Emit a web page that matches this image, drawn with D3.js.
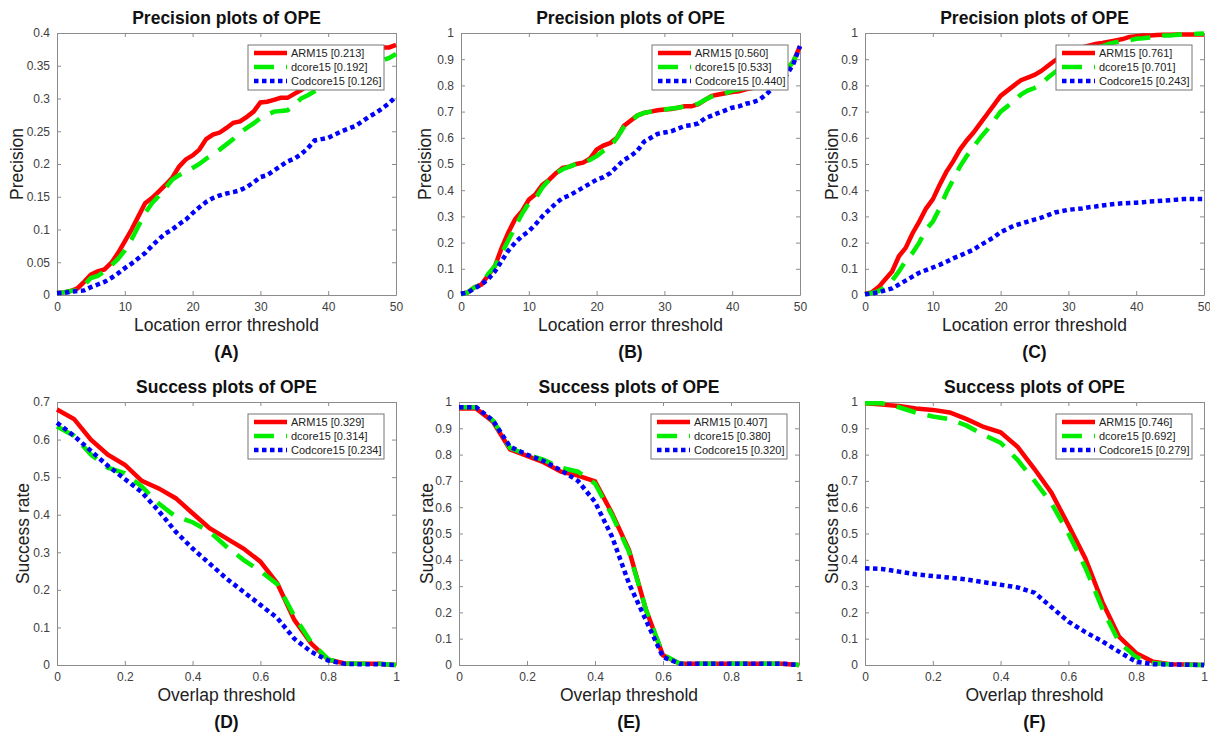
<!DOCTYPE html>
<html>
<head>
<meta charset="utf-8">
<script src="https://cdn.jsdelivr.net/npm/d3@7"></script>
<style>
  body { margin: 0; background: #fff; }
  svg { font-family: Arial, "Liberation Sans", sans-serif; }
</style>
</head>
<body>
<svg id="chart" width="1210" height="741"></svg>
<script>
// x values
const precisionX = [0,1,2,3,4,5,6,7,8,9,10,11,12,13,14,15,16,17,18,19,20,21,22,23,24,25,26,27,28,29,30,31,32,33,34,35,36,37,38,39,40,41,42,43,44,45,46,47,48,49,50];
const successX = [0,0.05,0.1,0.15,0.2,0.25,0.3,0.35,0.4,0.45,0.5,0.55,0.6,0.65,0.7,0.75,0.8,0.85,0.9,0.95,1];

const trackers = ["ARM15", "dcore15", "Codcore15"];

// (A) precision
const precA_arm = [0.003,0.004,0.006,0.01,0.02,0.031,0.036,0.039,0.049,0.064,0.082,0.1,0.12,0.14,0.148,0.158,0.168,0.179,0.196,0.207,0.213,0.222,0.238,0.245,0.248,0.255,0.263,0.265,0.272,0.28,0.294,0.295,0.298,0.301,0.301,0.307,0.313,0.32,0.325,0.33,0.335,0.34,0.345,0.352,0.36,0.365,0.372,0.377,0.378,0.378,0.382];
const precA_dcore = [0.003,0.004,0.006,0.007,0.015,0.026,0.029,0.036,0.045,0.055,0.068,0.085,0.105,0.125,0.14,0.151,0.163,0.176,0.183,0.188,0.194,0.2,0.208,0.215,0.222,0.23,0.238,0.248,0.255,0.262,0.27,0.275,0.28,0.281,0.282,0.29,0.3,0.305,0.311,0.316,0.32,0.325,0.33,0.335,0.34,0.345,0.35,0.355,0.358,0.362,0.368];
const precA_cod = [0.003,0.003,0.005,0.006,0.007,0.012,0.016,0.02,0.026,0.033,0.041,0.048,0.056,0.064,0.075,0.085,0.094,0.1,0.108,0.115,0.125,0.134,0.142,0.148,0.152,0.155,0.157,0.16,0.165,0.172,0.18,0.183,0.19,0.197,0.204,0.208,0.215,0.224,0.236,0.238,0.24,0.245,0.25,0.254,0.258,0.265,0.272,0.278,0.285,0.293,0.303];

// (B) precision
const precB_arm = [0.005,0.01,0.03,0.04,0.075,0.11,0.18,0.24,0.29,0.32,0.364,0.385,0.42,0.44,0.465,0.485,0.49,0.5,0.505,0.52,0.555,0.57,0.58,0.6,0.645,0.665,0.685,0.695,0.7,0.705,0.708,0.71,0.715,0.72,0.72,0.728,0.745,0.76,0.765,0.77,0.775,0.778,0.785,0.79,0.795,0.8,0.81,0.83,0.86,0.89,0.95];
const precB_dcore = [0.003,0.01,0.03,0.04,0.08,0.11,0.16,0.21,0.26,0.31,0.35,0.37,0.41,0.44,0.465,0.48,0.49,0.5,0.505,0.515,0.53,0.55,0.565,0.6,0.64,0.66,0.685,0.695,0.7,0.705,0.708,0.712,0.715,0.72,0.722,0.73,0.745,0.758,0.762,0.77,0.78,0.785,0.79,0.795,0.8,0.805,0.815,0.835,0.86,0.89,0.95];
const precB_cod = [0.005,0.01,0.025,0.04,0.06,0.09,0.13,0.17,0.2,0.225,0.243,0.27,0.3,0.325,0.35,0.37,0.38,0.395,0.41,0.425,0.44,0.45,0.465,0.49,0.515,0.53,0.55,0.585,0.6,0.615,0.62,0.625,0.635,0.645,0.648,0.655,0.675,0.685,0.695,0.705,0.715,0.72,0.73,0.735,0.745,0.765,0.79,0.81,0.84,0.88,0.95];

// (C) precision
const precC_arm = [0.005,0.01,0.03,0.06,0.09,0.148,0.18,0.235,0.28,0.33,0.365,0.42,0.47,0.51,0.555,0.59,0.62,0.655,0.69,0.725,0.76,0.78,0.8,0.82,0.83,0.84,0.855,0.875,0.895,0.91,0.925,0.935,0.945,0.952,0.958,0.962,0.967,0.972,0.977,0.985,0.988,0.99,0.99,0.992,0.993,0.993,0.994,0.994,0.994,0.994,0.994];
const precC_dcore = [0.003,0.008,0.015,0.03,0.055,0.09,0.13,0.16,0.2,0.25,0.28,0.33,0.39,0.44,0.49,0.53,0.565,0.6,0.63,0.665,0.7,0.72,0.74,0.765,0.78,0.79,0.805,0.83,0.85,0.87,0.89,0.905,0.92,0.93,0.94,0.95,0.958,0.965,0.97,0.972,0.978,0.98,0.983,0.985,0.99,0.99,0.993,0.995,0.996,0.997,0.998];
const precC_cod = [0.003,0.006,0.01,0.018,0.025,0.04,0.055,0.07,0.085,0.095,0.105,0.115,0.127,0.14,0.15,0.162,0.173,0.19,0.205,0.22,0.24,0.252,0.265,0.272,0.28,0.288,0.295,0.305,0.315,0.32,0.325,0.328,0.33,0.335,0.338,0.342,0.345,0.348,0.35,0.351,0.352,0.354,0.357,0.358,0.36,0.362,0.364,0.366,0.366,0.366,0.366];

// (D) success
const succD_arm = [0.68,0.655,0.6,0.56,0.533,0.49,0.47,0.444,0.404,0.364,0.337,0.31,0.275,0.217,0.12,0.057,0.014,0.004,0.003,0.003,0.0];
const succD_dcore = [0.635,0.61,0.56,0.525,0.51,0.475,0.43,0.395,0.38,0.355,0.315,0.28,0.25,0.215,0.13,0.06,0.015,0.004,0.003,0.003,0.0];
const succD_cod = [0.645,0.61,0.57,0.53,0.495,0.46,0.41,0.355,0.31,0.27,0.23,0.195,0.16,0.125,0.07,0.035,0.012,0.003,0.002,0.002,0.0];

// (E) success
const succE_arm = [0.975,0.975,0.925,0.82,0.795,0.77,0.735,0.72,0.698,0.577,0.437,0.21,0.037,0.005,0.005,0.005,0.005,0.005,0.005,0.005,0.0];
const succE_dcore = [0.98,0.98,0.93,0.825,0.8,0.78,0.75,0.735,0.69,0.57,0.43,0.21,0.04,0.005,0.005,0.005,0.005,0.005,0.005,0.005,0.0];
const succE_cod = [0.98,0.98,0.93,0.83,0.8,0.775,0.74,0.7,0.62,0.488,0.31,0.17,0.03,0.005,0.005,0.005,0.005,0.005,0.005,0.005,0.0];

// (F) success
const succF_arm = [0.995,0.99,0.985,0.975,0.97,0.96,0.935,0.905,0.885,0.83,0.745,0.655,0.532,0.405,0.24,0.107,0.045,0.012,0.003,0.002,0.0];
const succF_dcore = [0.995,0.995,0.98,0.96,0.945,0.935,0.91,0.875,0.845,0.78,0.7,0.615,0.5,0.37,0.215,0.085,0.03,0.008,0.002,0.001,0.0];
const succF_cod = [0.368,0.365,0.355,0.345,0.338,0.332,0.325,0.315,0.305,0.295,0.275,0.22,0.165,0.125,0.09,0.05,0.012,0.003,0.002,0.001,0.0];

// legend scores
const scoresA = ["0.213", "0.192", "0.126"];
const scoresB = ["0.560", "0.533", "0.440"];
const scoresC = ["0.761", "0.701", "0.243"];
const scoresD = ["0.329", "0.314", "0.234"];
const scoresE = ["0.407", "0.380", "0.320"];
const scoresF = ["0.746", "0.692", "0.279"];

// tick values
const precXTicks = [0, 10, 20, 30, 40, 50];
const succXTicks = [0, 0.2, 0.4, 0.6, 0.8, 1];
const yTicksA = [0, 0.05, 0.1, 0.15, 0.2, 0.25, 0.3, 0.35, 0.4];
const yTicksUnit = [0, 0.1, 0.2, 0.3, 0.4, 0.5, 0.6, 0.7, 0.8, 0.9, 1];
const yTicksD = [0, 0.1, 0.2, 0.3, 0.4, 0.5, 0.6, 0.7];

const colors = ["#ff0000", "#00ee00", "#0000ff"];
const dashes = [null, "20,12", "4.5,3.5"];

const precTitle = "Precision plots of OPE";
const succTitle = "Success plots of OPE";

const panels = [
  { tag: "(A)", left: 57, top: 33, right: 396, bottom: 295, yOff: 40, xs: precisionX, ys: [precA_arm, precA_dcore, precA_cod], scores: scoresA, xDom: [0, 50], yDom: [0, 0.4], xTicks: precXTicks, yTicks: yTicksA, title: precTitle, xLabel: "Location error threshold", yLabel: "Precision" },
  { tag: "(B)", left: 461, top: 33, right: 800, bottom: 295, yOff: 36, xs: precisionX, ys: [precB_arm, precB_dcore, precB_cod], scores: scoresB, xDom: [0, 50], yDom: [0, 1], xTicks: precXTicks, yTicks: yTicksUnit, title: precTitle, xLabel: "Location error threshold", yLabel: "Precision" },
  { tag: "(C)", left: 865, top: 33, right: 1204, bottom: 295, yOff: 33, xs: precisionX, ys: [precC_arm, precC_dcore, precC_cod], scores: scoresC, xDom: [0, 50], yDom: [0, 1], xTicks: precXTicks, yTicks: yTicksUnit, title: precTitle, xLabel: "Location error threshold", yLabel: "Precision" },
  { tag: "(D)", left: 57, top: 402, right: 396, bottom: 665, yOff: 34, xs: successX, ys: [succD_arm, succD_dcore, succD_cod], scores: scoresD, xDom: [0, 1], yDom: [0, 0.7], xTicks: succXTicks, yTicks: yTicksD, title: succTitle, xLabel: "Overlap threshold", yLabel: "Success rate" },
  { tag: "(E)", left: 459, top: 402, right: 799, bottom: 665, yOff: 32, xs: successX, ys: [succE_arm, succE_dcore, succE_cod], scores: scoresE, xDom: [0, 1], yDom: [0, 1], xTicks: succXTicks, yTicks: yTicksUnit, title: succTitle, xLabel: "Overlap threshold", yLabel: "Success rate" },
  { tag: "(F)", left: 865, top: 402, right: 1204, bottom: 665, yOff: 33, xs: successX, ys: [succF_arm, succF_dcore, succF_cod], scores: scoresF, xDom: [0, 1], yDom: [0, 1], xTicks: succXTicks, yTicks: yTicksUnit, title: succTitle, xLabel: "Overlap threshold", yLabel: "Success rate" }
];

const svg = d3.select("#chart");
const fmt = d3.format("~g");

panels.forEach(function (p) {
  const w = p.right - p.left;
  const h = p.bottom - p.top;
  const x = d3.scaleLinear().domain(p.xDom).range([0, w]);
  const y = d3.scaleLinear().domain(p.yDom).range([h, 0]);

  const g = svg.append("g").attr("transform", `translate(${p.left},${p.top})`);

  // axes (ticks inside, MATLAB style)
  const axB = g.append("g").attr("transform", `translate(0,${h})`)
    .call(d3.axisBottom(x).tickValues(p.xTicks).tickFormat(fmt).tickSizeInner(-4).tickSizeOuter(0).tickPadding(7));
  const axT = g.append("g")
    .call(d3.axisTop(x).tickValues(p.xTicks).tickFormat("").tickSizeInner(-4).tickSizeOuter(0));
  const axL = g.append("g")
    .call(d3.axisLeft(y).tickValues(p.yTicks).tickFormat(fmt).tickSizeInner(-4).tickSizeOuter(0).tickPadding(7));
  const axR = g.append("g").attr("transform", `translate(${w},0)`)
    .call(d3.axisRight(y).tickValues(p.yTicks).tickFormat("").tickSizeInner(-4).tickSizeOuter(0));
  [axB, axT, axL, axR].forEach(function (a) {
    a.select(".domain").attr("stroke", "#8c8c8c");
    a.selectAll(".tick line").attr("stroke", "#8c8c8c");
    a.selectAll(".tick text").attr("fill", "#404040").style("font-size", "12px");
  });

  // curves
  const line = d3.line().x(d => x(d[0])).y(d => y(d[1]));
  p.ys.forEach(function (vals, k) {
    g.append("path")
      .datum(p.xs.map((xv, j) => [xv, vals[j]]))
      .attr("d", line)
      .attr("fill", "none")
      .attr("stroke", colors[k])
      .attr("stroke-width", 4.5)
      .attr("stroke-dasharray", dashes[k]);
  });

  // legend
  const lw = 136, lh = 45;
  const lg = g.append("g").attr("transform", `translate(${w - 12 - lw},12)`);
  lg.append("rect").attr("width", lw).attr("height", lh)
    .attr("fill", "#fff").attr("stroke", "#777").attr("stroke-width", 1);
  trackers.forEach(function (name, k) {
    const ry = 8 + k * 14;
    lg.append("line").attr("x1", 6).attr("x2", 39).attr("y1", ry).attr("y2", ry)
      .attr("stroke", colors[k]).attr("stroke-width", 4.5).attr("stroke-dasharray", dashes[k]);
    lg.append("text").attr("x", 43).attr("y", ry).attr("dy", "0.35em")
      .style("font-size", "11px").attr("fill", "#222")
      .text(`${name} [${p.scores[k]}]`);
  });

  // title and labels
  g.append("text").attr("x", w / 2).attr("y", -9).attr("text-anchor", "middle")
    .style("font-size", "17.5px").style("font-weight", "bold").attr("fill", "#111")
    .text(p.title);
  g.append("text").attr("x", w / 2).attr("y", h + 36).attr("text-anchor", "middle")
    .style("font-size", "17.5px").attr("fill", "#222")
    .text(p.xLabel);
  g.append("text").attr("transform", `translate(${-p.yOff},${h / 2}) rotate(-90)`)
    .attr("dy", "0.35em").attr("text-anchor", "middle")
    .style("font-size", "17.5px").attr("fill", "#222")
    .text(p.yLabel);
  g.append("text").attr("x", w / 2).attr("y", h + 63).attr("text-anchor", "middle")
    .style("font-size", "17.5px").style("font-weight", "bold").attr("fill", "#111")
    .text(p.tag);
});
</script>
</body>
</html>
